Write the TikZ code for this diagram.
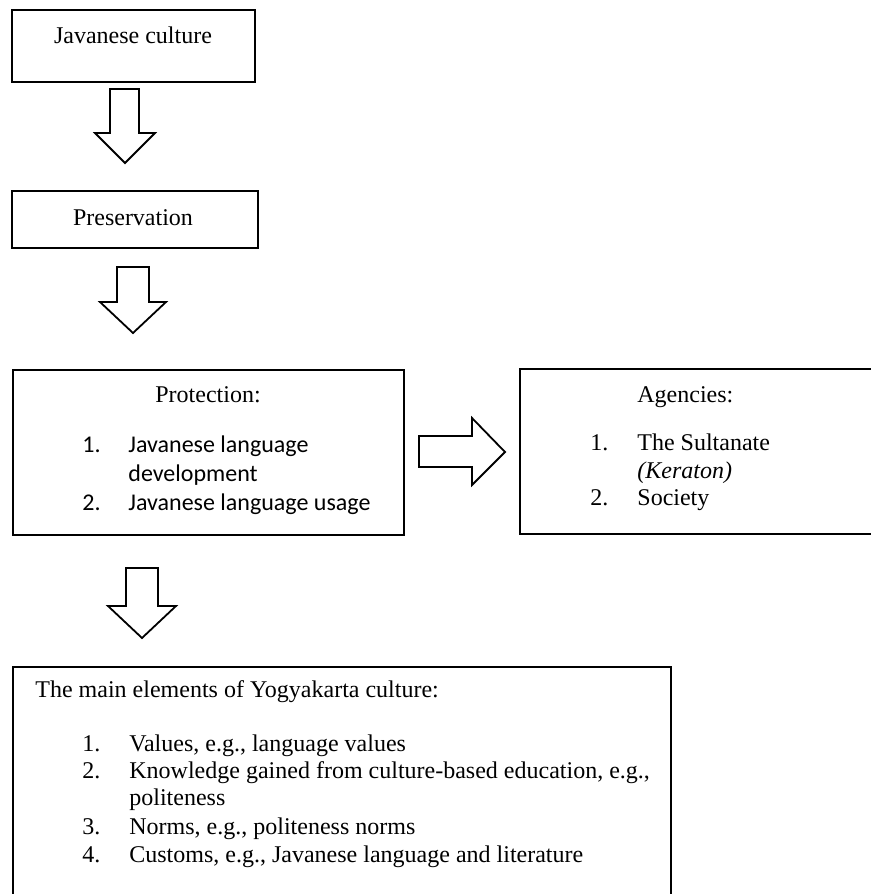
\documentclass[tikz,border=0pt]{standalone}
\usepackage{fontspec}
\setmainfont{Liberation Serif}
\newfontfamily\calibri{Carlito}
\usepackage{tikz}
\usetikzlibrary{positioning}

\tikzset{
    box/.style={draw, line width=1pt, rectangle, anchor=north west, inner sep=0pt},
    txt/.style={inner sep=0pt, anchor=base west, font=\fontsize{12}{13.8}\selectfont},
    sanstxt/.style={txt, font=\calibri\fontsize{12}{14.6}\selectfont},
    blockarrow/.style={draw, line width=0.9pt, line join=miter, fill=white}
}

\begin{document}
\begin{tikzpicture}[x=0.5pt,y=-0.5pt]
        \useasboundingbox (0,0) rectangle (871,894);
        \clip (0,0) rectangle (871,894);
    %Boxes
        \node[box, minimum width=121.5pt, minimum height=36pt] (culture) at (11,9) {};
        \node[box, minimum width=123pt, minimum height=28.5pt] (preservation) at (11,190) {};
        \node[box, minimum width=195.5pt, minimum height=82.5pt] (protection) at (12,369) {};
        \node[box, minimum width=190.5pt, minimum height=82.5pt] (agencies) at (519,368) {};
        \node[box, minimum width=329pt, minimum height=132pt] (elements) at (12,666) {};
    %Arrows
        \draw[blockarrow] (110,89) -- (139,89) -- (139,133) -- (155,133) -- (125,163) -- (95,133) -- (110,133) -- cycle;
        \draw[blockarrow] (117,267) -- (149,267) -- (149,302) -- (166,302) -- (133,333) -- (100,302) -- (117,302) -- cycle;
        \draw[blockarrow] (419,436) -- (472,436) -- (472,418) -- (505,452) -- (472,485) -- (472,467) -- (419,467) -- cycle;
        \draw[blockarrow] (126,568) -- (158,568) -- (158,606) -- (176,606) -- (142,638) -- (108,606) -- (126,606) -- cycle;
    %Texts
        \node[txt, anchor=base] (culturetxt) at (133,43) {Javanese culture};
        \node[txt, anchor=base] (preservationtxt) at (133,225) {Preservation};

        \node[txt] (protectiontxt) at (155,402) {Protection:};
        \node[sanstxt] (protnumone) at (82,452) {1.};
        \node[sanstxt] (protone) at (128,452) {Javanese language};
        \node[sanstxt] (protonecont) at (128,481) {development};
        \node[sanstxt] (protnumtwo) at (82,510) {2.};
        \node[sanstxt] (prottwo) at (128,510) {Javanese language usage};

        \node[txt] (agenciestxt) at (637,402) {Agencies:};
        \node[txt] (agnumone) at (590,450) {1.};
        \node[txt] (agone) at (637,450) {The Sultanate};
        \node[txt] (agonecont) at (637,478) {\textit{(Keraton)}};
        \node[txt] (agnumtwo) at (590,505) {2.};
        \node[txt] (agtwo) at (637,505) {Society};

        \node[txt] (elementstxt) at (35,697) {The main elements of Yogyakarta culture:};
        \node[txt] (elnumone) at (82,751) {1.};
        \node[txt] (elone) at (129,751) {Values, e.g., language values};
        \node[txt] (elnumtwo) at (82,778) {2.};
        \node[txt] (eltwo) at (129,778) {Knowledge gained from culture-based education, e.g.,};
        \node[txt] (eltwocont) at (129,805) {politeness};
        \node[txt] (elnumthree) at (82,834) {3.};
        \node[txt] (elthree) at (129,834) {Norms, e.g., politeness norms};
        \node[txt] (elnumfour) at (82,862) {4.};
        \node[txt] (elfour) at (129,862) {Customs, e.g., Javanese language and literature};
    \end{tikzpicture}
\end{document}
